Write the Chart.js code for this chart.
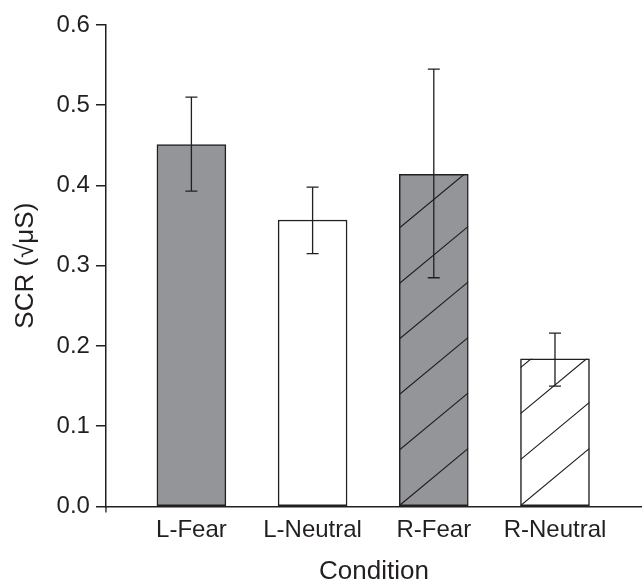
<!DOCTYPE html>
<html>
<head>
    <title>SCR by Condition</title>
    <script src="https://cdn.jsdelivr.net/npm/chart.js"></script>
    <style>
        body { margin: 0; background: #fff; }
    </style>
</head>
<body>
    <canvas id="scrChart" width="642" height="582"></canvas>

    <script>
        // Data
        const conditions = ['L-Fear', 'L-Neutral', 'R-Fear', 'R-Neutral'];
        const scrMean = [0.451, 0.357, 0.414, 0.184];
        const errLow = [0.393, 0.315, 0.285, 0.150];
        const errHigh = [0.510, 0.398, 0.545, 0.216];
        const yTicks = [0.0, 0.1, 0.2, 0.3, 0.4, 0.5, 0.6];

        // Styling per bar
        const ink = '#231f20';
        const barFill = ['#939598', '#ffffff', '#939598', '#ffffff'];
        const hatchGap = [0, 0, 55.5, 46]; // 0 = no hatching
        const hatchSlope = 0.83;
        const family = "'Liberation Sans', Arial, sans-serif";
        const tickFont = { family: family, size: 24 };

        // Diagonal hatching inside the right-hemisphere bars
        const hatchPlugin = {
            id: 'hatch',
            afterDatasetsDraw(chart) {
                const ctx = chart.ctx;
                chart.getDatasetMeta(0).data.forEach((bar, i) => {
                    const gap = hatchGap[i];
                    if (!gap) return;
                    const { x, y, base, width } = bar.getProps(['x', 'y', 'base', 'width'], true);
                    const left = x - width / 2, right = x + width / 2;
                    ctx.save();
                    ctx.beginPath();
                    ctx.rect(left, y, width, base - y);
                    ctx.clip();
                    ctx.strokeStyle = ink;
                    ctx.lineWidth = 1.2;
                    ctx.beginPath();
                    for (let k = 0; base - k * gap > y - 1; k++) {
                        const y0 = base - k * gap;
                        ctx.moveTo(left, y0);
                        ctx.lineTo(right, y0 - hatchSlope * width);
                    }
                    ctx.stroke();
                    ctx.restore();
                });
            }
        };

        // Error bars drawn on top with the chart's own scales
        const errorBarPlugin = {
            id: 'errorBars',
            afterDraw(chart) {
                const ctx = chart.ctx;
                const xs = chart.scales.x, ys = chart.scales.y;
                ctx.save();
                ctx.strokeStyle = ink;
                ctx.lineWidth = 1.3;
                ctx.beginPath();
                conditions.forEach((c, i) => {
                    const px = xs.getPixelForValue(i + 1);
                    const top = ys.getPixelForValue(errHigh[i]);
                    const bot = ys.getPixelForValue(errLow[i]);
                    ctx.moveTo(px, top); ctx.lineTo(px, bot);
                    ctx.moveTo(px - 6, top); ctx.lineTo(px + 6, top);
                    ctx.moveTo(px - 6, bot); ctx.lineTo(px + 6, bot);
                });
                // short stub of the y axis below zero
                const ax = chart.chartArea.left, y0 = ys.getPixelForValue(0);
                ctx.moveTo(ax, y0); ctx.lineTo(ax, y0 + 6);
                ctx.stroke();
                ctx.restore();
            }
        };

        new Chart(document.getElementById('scrChart'), {
            type: 'bar',
            data: {
                datasets: [{
                    data: scrMean.map((v, i) => ({ x: i + 1, y: v })),
                    backgroundColor: barFill,
                    borderColor: ink,
                    borderWidth: 1.5,
                    borderSkipped: false,
                    barThickness: 69
                }]
            },
            options: {
                responsive: false,
                animation: false,
                layout: { padding: { top: 25, right: 0, left: 4, bottom: 0 } },
                plugins: { legend: { display: false }, tooltip: { enabled: false } },
                scales: {
                    x: {
                        type: 'linear',
                        offset: false,
                        min: 0.295,
                        max: 4.718,
                        afterBuildTicks: axis => { axis.ticks = conditions.map((c, i) => ({ value: i + 1 })); },
                        ticks: {
                            callback: v => conditions[v - 1],
                            color: ink,
                            font: tickFont,
                            padding: 1.6,
                            maxRotation: 0,
                            autoSkip: false
                        },
                        grid: { display: false },
                        border: { color: ink, width: 1.5 },
                        title: {
                            display: true, text: 'Condition', color: ink,
                            font: { family: family, size: 26, lineHeight: 0.75 },
                            padding: { top: 16.1, bottom: 0 }
                        }
                    },
                    y: {
                        min: 0,
                        max: 0.6,
                        afterBuildTicks: axis => { axis.ticks = yTicks.map(v => ({ value: v })); },
                        ticks: { callback: v => v.toFixed(1), color: ink, font: tickFont, padding: 6 },
                        grid: { drawOnChartArea: false, drawTicks: true, tickLength: 10, color: ink, lineWidth: 1.5 },
                        border: { color: ink, width: 1.5 },
                        title: {
                            display: true, text: 'SCR (√μS)', color: ink,
                            font: { family: family, size: 26 },
                            padding: { top: 6.4, bottom: 9 }
                        }
                    }
                }
            },
            plugins: [hatchPlugin, errorBarPlugin]
        });
    </script>
</body>
</html>
